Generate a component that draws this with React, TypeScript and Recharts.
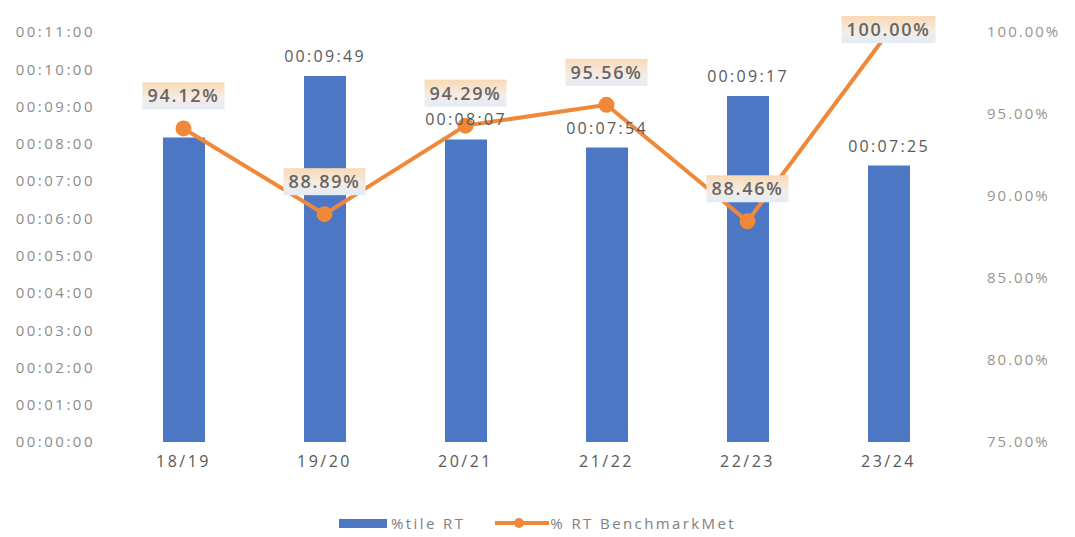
import React from 'react';
import {
  ComposedChart, Bar, Line, XAxis, YAxis, Legend, LabelList,
} from 'recharts';

const seasons = ['18/19', '19/20', '20/21', '21/22', '22/23', '23/24'];
// response time in seconds
const percentileRT = [490, 589, 487, 474, 557, 445];
const benchmarkMet = [94.12, 88.89, 94.29, 95.56, 88.46, 100.0];
const leftTicks = [0, 60, 120, 180, 240, 300, 360, 420, 480, 540, 600, 660];
const rightTicks = [75, 80, 85, 90, 95, 100];

const BLUE = '#4C77C4';
const ORANGE = '#F0883A';
const FONT = '"Open Sans", "Liberation Sans", sans-serif';

const data = seasons.map((s, i) => ({
  season: s,
  rt: percentileRT[i],
  met: benchmarkMet[i],
}));

const pad = (n: number) => String(n).padStart(2, '0');
const fmtTime = (v: number) => `00:${pad(Math.floor(v / 60))}:${pad(v % 60)}`;
const fmtPct = (v: number) => `${v.toFixed(2)}%`;

// the first bar's label sits behind the 94.12% box in the original
const TimeLabel = (props: any) => {
  const { x, y, width, value, index } = props;
  if (index === 0) return null;
  return (
    <text x={x + width / 2} y={y - 14} textAnchor="middle" fontSize={16}
      letterSpacing={2.3} fill="#595959" fontFamily={FONT}>
      {fmtTime(value)}
    </text>
  );
};

const PctLabel = (props: any) => {
  const { x, y, value } = props;
  const text = fmtPct(value);
  const w = text.length * 12 + 10;
  const cy = Math.max(y - 32, 30);
  return (
    <g>
      <rect x={x - w / 2} y={cy - 14} width={w} height={27} fill="url(#lblGrad)" />
      <text x={x} y={cy + 6} textAnchor="middle" fontSize={18} fontWeight={600}
        letterSpacing={1.7} fill="#666" fontFamily={FONT}>
        {text}
      </text>
    </g>
  );
};

const renderLegend = () => (
  <div style={{ display: 'flex', justifyContent: 'center', alignItems: 'center',
    fontFamily: FONT, fontSize: 15, letterSpacing: 2.4, color: '#808080', paddingLeft: 6 }}>
    <svg width={52} height={12}>
      <rect x={0} y={2} width={48} height={9} fill={BLUE} />
    </svg>
    <span style={{ marginRight: 30 }}>%tile RT</span>
    <svg width={55} height={14}>
      <line x1={0} y1={7} x2={54} y2={7} stroke={ORANGE} strokeWidth={4} />
      <circle cx={24} cy={7} r={5} fill={ORANGE} />
    </svg>
    <span>% RT BenchmarkMet</span>
  </div>
);

export default function App() {
  return (
    <div style={{ position: 'absolute', left: 0, top: 0, background: '#fff' }}>
      <ComposedChart width={1075} height={537} data={data}
        margin={{ top: 32, right: 6, bottom: 0, left: 0 }}>
        <defs>
          <linearGradient id="lblGrad" x1="0" y1="0" x2="0" y2="1">
            <stop offset="0%" stopColor="#F9D9B5" />
            <stop offset="60%" stopColor="#F4EDE6" />
            <stop offset="100%" stopColor="#E3EBF6" />
          </linearGradient>
        </defs>
        <XAxis dataKey="season" axisLine={false} tickLine={false} tickSize={0}
          tickMargin={14} height={71}
          tick={{ fill: '#595959', fontSize: 16, letterSpacing: 2.5, fontFamily: FONT }} />
        <YAxis yAxisId="left" domain={[0, 660]} ticks={leftTicks} interval={0}
          tickFormatter={fmtTime} axisLine={false} tickLine={false} tickSize={0}
          tickMargin={18} width={113}
          tick={{ fill: '#8c8c8c', fontSize: 15, letterSpacing: 2.5, fontFamily: FONT }} />
        <YAxis yAxisId="right" orientation="right" domain={[75, 100]} ticks={rightTicks}
          interval={0} tickFormatter={fmtPct} axisLine={false} tickLine={false}
          tickSize={0} tickMargin={28} width={110}
          tick={{ fill: '#9a948c', fontSize: 15, letterSpacing: 2, fontFamily: FONT }} />
        <Legend verticalAlign="bottom" height={24} content={renderLegend} />
        <Bar yAxisId="left" dataKey="rt" name="%tile RT" fill={BLUE} barSize={42}
          isAnimationActive={false}>
          <LabelList dataKey="rt" content={TimeLabel} />
        </Bar>
        <Line yAxisId="right" dataKey="met" name="% RT BenchmarkMet" stroke={ORANGE}
          strokeWidth={4} dot={{ r: 6, fill: ORANGE, stroke: ORANGE }}
          isAnimationActive={false}>
          <LabelList dataKey="met" content={PctLabel} />
        </Line>
      </ComposedChart>
    </div>
  );
}
